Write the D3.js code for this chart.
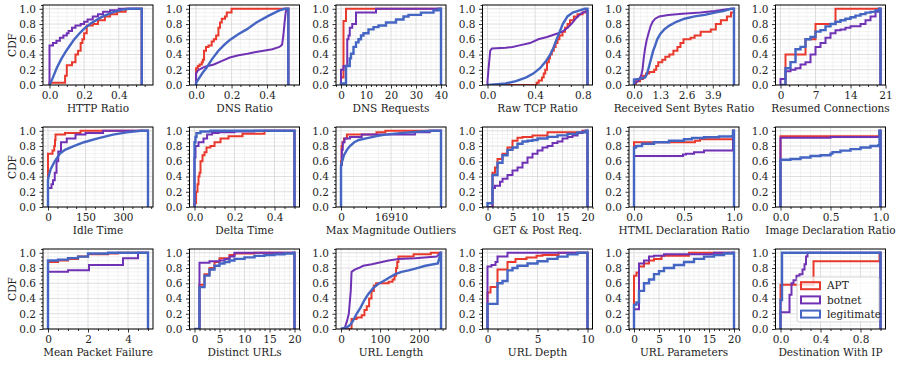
<!DOCTYPE html>
<html><head><meta charset="utf-8">
<script src="https://cdn.jsdelivr.net/npm/d3@7"></script>
<style>body{margin:0;background:#fff;} svg text{font-family:"DejaVu Serif",serif;fill:#222;}</style>
</head><body><svg id="c" width="902" height="365"></svg>
<script>
// ---------------- DATA ----------------
const seriesNames = ['APT', 'botnet', 'legitimate'];
const panelLabels = ['HTTP Ratio','DNS Ratio','DNS Requests','Raw TCP Ratio','Received Sent Bytes Ratio','Resumed Connections',
  'Idle Time','Delta Time','Max Magnitude Outliers','GET & Post Req.','HTML Declaration Ratio','Image Declaration Ratio',
  'Mean Packet Failure','Distinct URLs','URL Length','URL Depth','URL Parameters','Destination With IP'];
const xTickValues = [[0,0.2,0.4],[0,0.2,0.4],[0,10,20,30,40],[0,0.4,0.8],[0,1.3,2.6,3.9],[0,7,14,21],
  [0,150,300],[0,0.2,0.4],[0,16910],[0,5,10,15,20],[0,0.5,1],[0,0.5,1],
  [0,2,4],[0,5,10,15,20],[0,100,200],[0,5,10],[0,5,10,15,20],[0,0.4,0.8]];
const xTickLabels = [['0.0','0.2','0.4'],['0.0','0.2','0.4'],['0','10','20','30','40'],['0.0','0.4','0.8'],['0.0','1.3','2.6','3.9'],['0','7','14','21'],
  ['0','150','300'],['0.0','0.2','0.4'],['0','16910'],['0','5','10','15','20'],['0.0','0.5','1.0'],['0.0','0.5','1.0'],
  ['0','2','4'],['0','5','10','15','20'],['0','100','200'],['0','5','10'],['0','5','10','15','20'],['0.0','0.4','0.8']];
const xMinorStep = [0.05,0.05,2,0.1,0.325,1.75,37.5,0.05,4227.5,1,0.1,0.1,0.5,1,20,1,1,0.1];
const xDomains = [[-0.0376,0.598],[-0.037,0.583],[-2,42],[-0.042,0.882],[-0.2475,5.1975],[-1,21],
  [-20,420],[-0.025,0.525],[-1691,35511],[-1,21],[-0.05,1.05],[-0.05,1.05],
  [-0.25,5.25],[-1,21],[-12.8,268.8],[-0.5,10.5],[-1,21],[-0.05,1.05]];
const xEnds = [0.533,0.52,40,0.84,4.95,20,400,0.5,33820,20,1,1,5,20,256,10,20,1];
const yTickValues = [0,0.2,0.4,0.6,0.8,1.0];
const yTickLabels = ['0.0','0.2','0.4','0.6','0.8','1.0'];

// each series: [x, cumulative fraction]
const httpAPT = [[0,0.03],[0.09,0.12],[0.1,0.26],[0.13,0.3],[0.15,0.4],[0.165,0.45],[0.18,0.55],[0.19,0.6],[0.2,0.68],[0.215,0.78],[0.25,0.8],[0.28,0.85],[0.32,0.9],[0.35,0.93],[0.39,0.96],[0.44,1.0]];
const httpBotnet = [[0,0.52],[0.02,0.55],[0.04,0.58],[0.06,0.62],[0.08,0.65],[0.1,0.68],[0.11,0.71],[0.13,0.75],[0.15,0.78],[0.18,0.8],[0.2,0.83],[0.22,0.86],[0.25,0.9],[0.28,0.93],[0.31,0.96],[0.35,0.98],[0.4,1.0]];
const httpLegit = [[0,0],[0.02,0.1],[0.043,0.23],[0.07,0.35],[0.1,0.46],[0.14,0.59],[0.17,0.67],[0.2,0.74],[0.24,0.81],[0.3,0.89],[0.36,0.95],[0.42,0.99],[0.46,1.0]];

const dnsAPT = [[0,0.22],[0.01,0.25],[0.02,0.27],[0.032,0.3],[0.038,0.33],[0.045,0.45],[0.056,0.5],[0.07,0.52],[0.088,0.57],[0.1,0.6],[0.113,0.65],[0.126,0.75],[0.135,0.82],[0.145,0.87],[0.163,0.9],[0.173,0.95],[0.2,1.0]];
const dnsBotnet = [[0,0.15],[0.01,0.19],[0.023,0.21],[0.05,0.24],[0.1,0.27],[0.15,0.32],[0.19,0.36],[0.24,0.39],[0.29,0.41],[0.33,0.43],[0.38,0.45],[0.43,0.47],[0.47,0.5],[0.485,0.53],[0.492,0.65],[0.498,0.8],[0.505,0.95],[0.51,1.0]];
const dnsLegit = [[0,0.03],[0.02,0.1],[0.04,0.17],[0.06,0.23],[0.09,0.34],[0.126,0.45],[0.16,0.53],[0.19,0.59],[0.24,0.67],[0.285,0.73],[0.34,0.82],[0.41,0.91],[0.47,0.98],[0.5,1.0]];

const dnsReqAPT = [[0,0.1],[1,0.84],[2,1.0]];
const dnsReqBotnet = [[0,0.2],[1,0.25],[2.5,0.6],[3,0.65],[3.5,0.75],[4.5,0.8],[6,0.95],[14,1.0]];
const dnsReqLegit = [[0,0.02],[2,0.25],[3.5,0.35],[4,0.41],[5,0.5],[6,0.56],[7,0.6],[8,0.65],[9,0.68],[11,0.73],[13,0.76],[15,0.78],[18,0.82],[22,0.86],[25,0.9],[27,0.92],[32,0.95],[37,0.98],[39,1.0]];

const tcpAPT = [[0,0],[0.413,0.03],[0.43,0.06],[0.457,0.1],[0.472,0.15],[0.485,0.2],[0.5,0.3],[0.515,0.35],[0.525,0.4],[0.54,0.45],[0.557,0.5],[0.572,0.55],[0.588,0.6],[0.604,0.65],[0.63,0.7],[0.651,0.75],[0.672,0.8],[0.693,0.85],[0.725,0.9],[0.756,0.93],[0.798,0.95],[0.83,0.97]];
const tcpBotnet = [[0,0.05],[0.008,0.2],[0.023,0.45],[0.038,0.48],[0.153,0.49],[0.21,0.5],[0.269,0.52],[0.357,0.55],[0.427,0.6],[0.5,0.63],[0.557,0.66],[0.63,0.7],[0.672,0.75],[0.704,0.8],[0.746,0.88],[0.788,0.94],[0.83,0.97]];
const tcpLegit = [[0,0],[0.084,0.01],[0.153,0.02],[0.239,0.05],[0.326,0.1],[0.384,0.15],[0.441,0.22],[0.485,0.3],[0.528,0.4],[0.557,0.5],[0.581,0.6],[0.607,0.7],[0.632,0.8],[0.672,0.9],[0.716,0.95],[0.774,0.98],[0.817,1.0]];

const bytesAPT = [[0,0.02],[0.1,0.05],[0.3,0.08],[0.45,0.12],[0.6,0.15],[0.75,0.17],[1.0,0.2],[1.1,0.25],[1.2,0.3],[1.4,0.33],[1.55,0.37],[1.75,0.4],[1.95,0.45],[2.15,0.5],[2.3,0.55],[2.45,0.6],[2.8,0.62],[3.0,0.65],[3.3,0.7],[3.8,0.73],[4.05,0.8],[4.3,0.85],[4.6,0.9],[4.8,0.95]];
const bytesBotnet = [[0,0.02],[0.2,0.05],[0.35,0.12],[0.42,0.2],[0.48,0.35],[0.55,0.48],[0.62,0.58],[0.72,0.68],[0.82,0.77],[0.92,0.83],[1.05,0.87],[1.25,0.9],[1.7,0.92],[2.4,0.935],[3.3,0.95],[4.0,0.97],[4.5,0.99],[4.85,1.0]];
const bytesLegit = [[0,0.07],[0.3,0.08],[0.55,0.1],[0.65,0.15],[0.75,0.25],[0.85,0.35],[0.95,0.45],[1.05,0.52],[1.15,0.6],[1.3,0.67],[1.5,0.73],[1.75,0.78],[2.1,0.83],[2.5,0.87],[3.0,0.9],[3.5,0.92],[4.0,0.95],[4.4,0.97],[4.8,1.0]];

const resumedAPT = [[0,0],[1,0.4],[5,0.6],[7,0.8],[11,1.0]];
const resumedBotnet = [[0,0.08],[1,0.18],[2,0.2],[3,0.22],[4,0.27],[5,0.3],[6,0.4],[7,0.5],[8,0.55],[9,0.62],[10,0.68],[11,0.72],[12,0.73],[13,0.75],[14,0.77],[16,0.8],[17,0.85],[18,0.9],[19,0.96],[19.7,1.0]];
const resumedLegit = [[0,0],[1,0.22],[2,0.3],[3,0.47],[4,0.5],[5,0.6],[6,0.63],[7,0.7],[8,0.72],[9,0.77],[10,0.8],[11,0.83],[12,0.85],[13,0.87],[14,0.89],[15,0.91],[16,0.93],[17,0.95],[18,0.96],[19,0.98],[19.7,1.0]];

const idleAPT = [[0,0.7],[18,0.74],[25,0.8],[28,0.88],[30,0.95],[68,0.97],[130,1.0]];
const idleBotnet = [[0,0.25],[14,0.3],[20,0.35],[27,0.45],[34,0.6],[41,0.73],[52,0.85],[75,0.9],[110,0.95],[150,0.97],[220,1.0]];
const idleLegit = [[0,0.36],[4,0.42],[11,0.5],[27,0.6],[48,0.7],[68,0.75],[103,0.8],[144,0.85],[199,0.9],[260,0.95],[315,0.98],[370,1.0]];

const deltaAPT = [[0,0.05],[0.008,0.2],[0.015,0.3],[0.02,0.4],[0.025,0.45],[0.03,0.6],[0.04,0.68],[0.05,0.72],[0.06,0.78],[0.08,0.8],[0.1,0.85],[0.13,0.9],[0.17,0.93],[0.24,0.96],[0.35,1.0]];
const deltaBotnet = [[0,0.65],[0.005,0.8],[0.02,0.85],[0.045,0.9],[0.063,0.95],[0.088,0.97],[0.12,0.98],[0.2,0.99],[0.3,1.0]];
const deltaLegit = [[0,0.85],[0.005,0.92],[0.01,0.97],[0.03,0.99],[0.08,1.0]];

const magAPT = [[0,0.6],[200,0.8],[500,0.85],[1000,0.9],[2000,0.95],[12000,0.98],[15000,1.0]];
const magBotnet = [[0,0.55],[300,0.75],[600,0.85],[1200,0.9],[3000,0.92],[7000,0.95],[25000,0.98],[30000,1.0]];
const magLegit = [[0,0.55],[400,0.6],[1000,0.68],[2000,0.75],[3000,0.8],[4500,0.85],[6000,0.88],[8500,0.9],[12000,0.93],[15000,0.95],[20000,0.97],[27000,0.99],[31000,1.0]];

const getAPT = [[0,0],[1,0.45],[1.5,0.52],[2,0.63],[3,0.7],[4,0.78],[5,0.87],[6,0.91],[7,0.92],[9,0.94],[12,0.98],[19,1.0]];
const getBotnet = [[0,0],[1,0.25],[1.5,0.28],[2.5,0.33],[3,0.37],[4,0.42],[5,0.48],[6,0.52],[7,0.58],[8,0.65],[9,0.7],[10,0.74],[11,0.78],[12,0.8],[13,0.84],[14,0.86],[15,0.9],[16,0.92],[17,0.94],[18,0.97],[19,0.99],[19.7,1.0]];
const getLegit = [[0,0.05],[1,0.42],[2,0.58],[3,0.68],[4,0.75],[5,0.78],[6,0.83],[7,0.86],[8,0.87],[9,0.88],[10,0.9],[12,0.92],[14,0.94],[16,0.96],[18,0.98],[19.7,1.0]];

const htmlAPT = [[0,0.85],[0.61,0.87],[0.66,0.89],[0.99,1.0]];
const htmlBotnet = [[0,0.67],[0.49,0.69],[0.52,0.7],[0.6,0.72],[0.7,0.74],[0.99,1.0]];
const htmlLegit = [[0,0.78],[0.02,0.8],[0.08,0.83],[0.2,0.85],[0.35,0.87],[0.5,0.89],[0.58,0.905],[0.7,0.915],[0.85,0.925],[0.98,0.93],[0.99,1.0]];

const imgAPT = [[0,0.93],[0.99,1.0]];
const imgBotnet = [[0,0.91],[0.5,0.92],[0.99,1.0]];
const imgLegit = [[0,0.62],[0.1,0.63],[0.2,0.65],[0.3,0.67],[0.4,0.68],[0.5,0.7],[0.52,0.72],[0.6,0.74],[0.7,0.76],[0.8,0.78],[0.9,0.8],[0.98,0.81],[0.99,1.0]];

const mpfAPT = [[0,0.88],[0.5,0.9],[1,0.92],[1.5,0.95],[2,0.98],[3,0.99],[3.5,1.0]];
const mpfBotnet = [[0,0.75],[1,0.77],[2.05,0.84],[3.75,0.93],[4.5,1.0]];
const mpfLegit = [[0,0.9],[0.5,0.91],[1,0.93],[1.5,0.95],[2,0.99],[3,1.0]];

const durlAPT = [[0,0],[1,0.58],[2,0.72],[3,0.8],[4,0.88],[5,0.93],[7,0.97],[8,0.99],[12,1.0]];
const durlBotnet = [[0,0],[1,0.87],[3,0.89],[5,0.9],[6,0.92],[7,0.95],[8,1.0]];
const durlLegit = [[0,0],[1,0.55],[2,0.7],[3,0.78],[4,0.83],[5,0.86],[6,0.88],[7,0.9],[8,0.92],[10,0.94],[12,0.96],[14,0.97],[16,0.98],[18,0.99],[19.7,1.0]];

const ulenAPT = [[0,0],[27,0.13],[40,0.15],[53,0.18],[60,0.25],[66,0.3],[72,0.4],[78,0.5],[84,0.57],[90,0.6],[122,0.62],[132,0.65],[137,0.7],[141,0.8],[144,0.88],[147,0.95],[186,0.98],[230,1.0]];
const ulenBotnet = [[0,0],[10,0.02],[15,0.1],[20,0.2],[25,0.5],[27,0.75],[35,0.78],[45,0.8],[57,0.83],[79,0.85],[96,0.87],[122,0.9],[147,0.92],[190,0.93],[245,0.95],[254,1.0]];
const ulenLegit = [[0,0],[15,0.02],[25,0.06],[32,0.12],[40,0.2],[50,0.28],[60,0.38],[70,0.46],[83,0.54],[95,0.59],[109,0.63],[125,0.68],[139,0.72],[155,0.75],[173,0.77],[195,0.8],[216,0.83],[248,0.86],[255,1.0]];

const udepAPT = [[0,0.48],[0.3,0.55],[1,0.78],[2,0.88],[2.8,0.92],[3.9,0.94],[4.9,0.96],[5.5,0.97],[7.1,1.0]];
const udepBotnet = [[0,0.82],[0.4,0.84],[0.8,0.88],[1,0.95],[2,1.0]];
const udepLegit = [[0,0.33],[1,0.6],[1.5,0.63],[2,0.77],[2.5,0.8],[3,0.83],[4,0.86],[5,0.89],[6,0.92],[7,0.95],[8,0.98],[9,1.0]];

const uparAPT = [[0,0.7],[0.5,0.74],[1,0.82],[2,0.86],[3,0.9],[4,0.92],[5.5,0.96],[11,1.0]];
const uparBotnet = [[0,0.26],[1,0.86],[2,0.9],[3,0.95],[4,0.96],[6,0.98],[16,1.0]];
const uparLegit = [[0,0.32],[0.5,0.35],[1,0.5],[2,0.6],[3,0.65],[4,0.72],[5,0.76],[6,0.8],[8,0.84],[10,0.88],[12,0.92],[14,0.95],[16,0.97],[18,0.99],[19.7,1.0]];

const destAPT = [[0,0.58],[0.33,0.89],[0.99,1.0]];
const destBotnet = [[0,0.22],[0.09,0.45],[0.11,0.6],[0.13,0.64],[0.16,0.7],[0.19,0.72],[0.22,0.78],[0.24,0.85],[0.255,0.95],[0.27,1.0]];
const destLegit = [[0,0.38],[0.015,1.0]];

const panelSeries = [
  [httpAPT, httpBotnet, httpLegit], [dnsAPT, dnsBotnet, dnsLegit], [dnsReqAPT, dnsReqBotnet, dnsReqLegit],
  [tcpAPT, tcpBotnet, tcpLegit], [bytesAPT, bytesBotnet, bytesLegit], [resumedAPT, resumedBotnet, resumedLegit],
  [idleAPT, idleBotnet, idleLegit], [deltaAPT, deltaBotnet, deltaLegit], [magAPT, magBotnet, magLegit],
  [getAPT, getBotnet, getLegit], [htmlAPT, htmlBotnet, htmlLegit], [imgAPT, imgBotnet, imgLegit],
  [mpfAPT, mpfBotnet, mpfLegit], [durlAPT, durlBotnet, durlLegit], [ulenAPT, ulenBotnet, ulenLegit],
  [udepAPT, udepBotnet, udepLegit], [uparAPT, uparBotnet, uparLegit], [destAPT, destBotnet, destLegit]
];
// series drawn as finely binned (smooth) curves: panel index -> series indices
const smoothSeries = {0:[2], 1:[1,2], 3:[1,2], 4:[1,2], 6:[2], 8:[2], 14:[1,2]};

// ---------------- STYLE / LAYOUT ----------------
const seriesColors = ['#e8392c', '#7032b5', '#4565c3'];
const PW = 110, PH = 80;
const colLeft = i => 43 + i * 146.5;
const rowTop = [5, 127, 249];
const FS = 10.5;

const svg = d3.select('#c');
svg.append('rect').attr('width', 902).attr('height', 365).attr('fill', '#fff');

function minorTicks(dom, step, majors) {
  const out = [];
  const start = Math.ceil(dom[0] / step - 1e-9);
  for (let k = start; k * step <= dom[1] + 1e-9; k++) {
    const v = k * step;
    if (!majors.some(m => Math.abs(m - v) < step * 1e-3)) out.push(v);
  }
  return out;
}

panelLabels.forEach((label, p) => {
  const col = p % 6, row = Math.floor(p / 6);
  const g = svg.append('g').attr('transform', `translate(${colLeft(col)},${rowTop[row]})`);
  const x = d3.scaleLinear().domain(xDomains[p]).range([0, PW]);
  const y = d3.scaleLinear().domain([0, 1.05]).range([PH, 0]);
  const xMinor = minorTicks(xDomains[p], xMinorStep[p], xTickValues[p]);
  const yMinor = minorTicks([0, 1.05], 0.05, yTickValues);

  // grid
  const grid = g.append('g');
  grid.selectAll('.vmin').data(xMinor).join('line')
    .attr('x1', d => x(d)).attr('x2', d => x(d)).attr('y1', 0).attr('y2', PH)
    .attr('stroke', '#ebebeb').attr('stroke-width', 0.6);
  grid.selectAll('.hmin').data(yMinor).join('line')
    .attr('y1', d => y(d)).attr('y2', d => y(d)).attr('x1', 0).attr('x2', PW)
    .attr('stroke', '#ebebeb').attr('stroke-width', 0.6);
  grid.selectAll('.vmaj').data(xTickValues[p]).join('line')
    .attr('x1', d => x(d)).attr('x2', d => x(d)).attr('y1', 0).attr('y2', PH)
    .attr('stroke', '#d6d6d6').attr('stroke-width', 0.8);
  grid.selectAll('.hmaj').data(yTickValues).join('line')
    .attr('y1', d => y(d)).attr('y2', d => y(d)).attr('x1', 0).attr('x2', PW)
    .attr('stroke', '#d6d6d6').attr('stroke-width', 0.8);

  // clip
  const cid = 'clip' + p;
  g.append('clipPath').attr('id', cid).append('rect').attr('width', PW).attr('height', PH);

  // curves
  const end = xEnds[p];
  panelSeries[p].forEach((pts, s) => {
    const last = pts[pts.length - 1];
    const arr = [[pts[0][0], 0], ...pts, [end, last[1]], [end, 0]];
    const smooth = (smoothSeries[p] || []).includes(s);
    const line = d3.line().x(d => x(d[0])).y(d => y(d[1]))
      .curve(smooth ? d3.curveLinear : d3.curveStepAfter);
    g.append('path').attr('d', line(arr)).attr('fill', 'none')
      .attr('stroke', seriesColors[s]).attr('stroke-width', s === 2 ? 2.4 : 2)
      .attr('stroke-linejoin', 'miter').attr('clip-path', `url(#${cid})`);
  });

  // axes
  const xAxis = d3.axisBottom(x).tickValues(xTickValues[p])
    .tickFormat((d, i) => xTickLabels[p][i]).tickSize(3.5).tickPadding(3.5);
  const xAxisMinor = d3.axisBottom(x).tickValues(xMinor).tickFormat('').tickSize(2);
  const yAxis = d3.axisLeft(y).tickValues(yTickValues)
    .tickFormat((d, i) => yTickLabels[i]).tickSize(3.5).tickPadding(3.5);
  const yAxisMinor = d3.axisLeft(y).tickValues(yMinor).tickFormat('').tickSize(2);
  [ [xAxisMinor, `translate(0,${PH})`], [xAxis, `translate(0,${PH})`], [yAxisMinor, null], [yAxis, null] ]
    .forEach(([ax, tr]) => {
      const a = g.append('g');
      if (tr) a.attr('transform', tr);
      a.call(ax);
      a.select('.domain').remove();
      a.selectAll('line').attr('stroke', '#000').attr('stroke-width', 0.8);
      a.selectAll('text').attr('font-family', '"DejaVu Serif", serif').attr('font-size', FS).attr('fill', '#222');
    });

  // frame
  g.append('rect').attr('width', PW).attr('height', PH).attr('fill', 'none')
    .attr('stroke', '#000').attr('stroke-width', 1);

  // x label
  g.append('text').attr('x', PW / 2).attr('y', PH + 27).attr('text-anchor', 'middle')
    .attr('font-size', FS).text(label);

  if (col === 0) {
    svg.append('text').attr('transform', `translate(15.5,${rowTop[row] + PH / 2}) rotate(-90)`)
      .attr('text-anchor', 'middle').attr('font-size', FS).text('CDF');
  }
});

// legend (in last panel, lower right)
const lgW = 82, lgH = 45;
const lg = svg.append('g').attr('transform', `translate(${colLeft(5) + PW - 6.5 - lgW},${rowTop[2] + PH - 7 - lgH})`);
lg.append('rect').attr('width', lgW).attr('height', lgH).attr('rx', 2)
  .attr('fill', '#fff').attr('fill-opacity', 0.8).attr('stroke', '#cccccc').attr('stroke-width', 0.8);
seriesNames.forEach((n, i) => {
  const cy = 8.7 + i * 14.2;
  lg.append('rect').attr('x', 4).attr('y', cy - 3.5).attr('width', 19).attr('height', 7)
    .attr('fill', 'none').attr('stroke', seriesColors[i]).attr('stroke-width', 2);
  lg.append('text').attr('x', 30).attr('y', cy).attr('dy', '0.35em').attr('font-size', FS).text(n);
});
</script></body></html>
